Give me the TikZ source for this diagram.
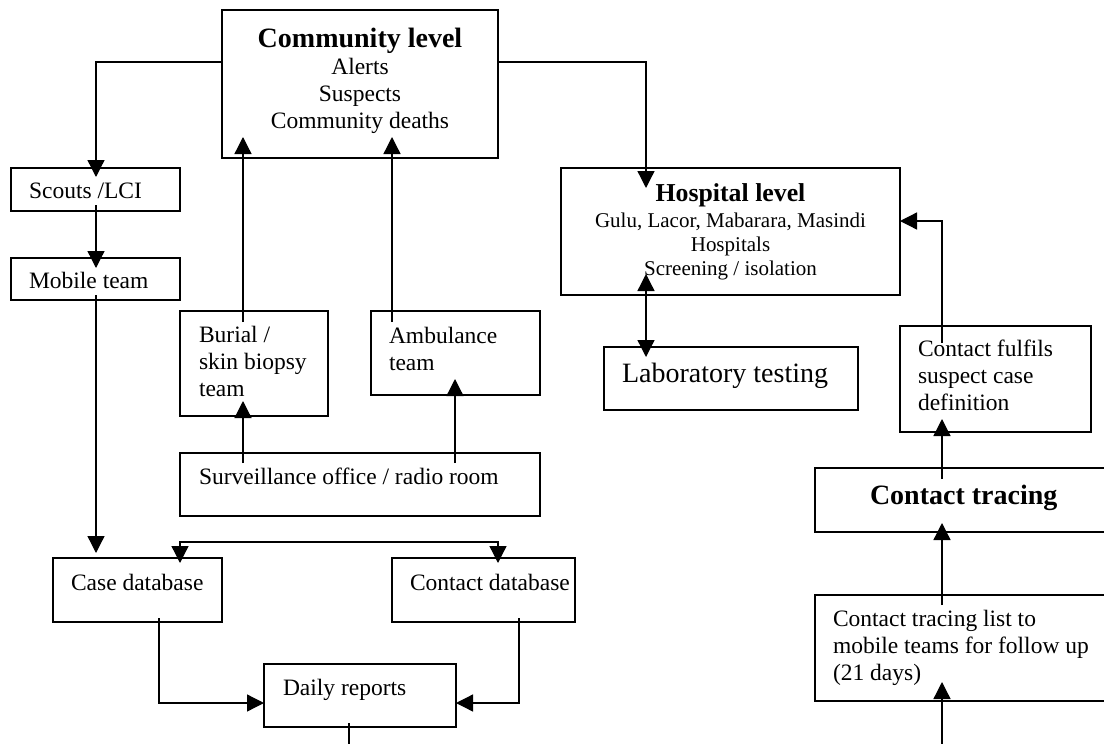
\documentclass[tikz,border=0pt]{standalone}
\usepackage{fontspec}
\setmainfont{Liberation Serif}
\usetikzlibrary{arrows.meta,calc}
\setlength\parindent{0pt}
\newcommand\fnorm{\fontsize{23.5}{27}\selectfont}
\newcommand\fhosp{\fontsize{21}{24}\selectfont}
\newcommand\fbig{\fontsize{28}{32}\selectfont}
\tikzset{
  box/.style={draw, line width=1.6pt, inner sep=0pt, outer sep=0pt, anchor=north west},
  txt/.style={inner sep=0pt, outer sep=0pt, anchor=base west, align=left, font=\fnorm},
  conn/.style={line width=1.3pt, -{Triangle[width=17pt,length=17pt]}},
  conntwo/.style={line width=1.3pt, {Triangle[width=17pt,length=17pt]}-{Triangle[width=17pt,length=17pt]}},
  plain/.style={line width=1.3pt}
}
\begin{document}
\begin{tikzpicture}[x=1pt,y=-1pt]
\clip (0,0) rectangle (1104,744);
\fill[white] (0,0) rectangle (1104,744);
% boxes
\node[box, minimum width=276pt, minimum height=148pt] (comm) at (222,10) {};
\node[box, minimum width=169pt, minimum height=43pt] (scouts) at (11,168) {};
\node[box, minimum width=169pt, minimum height=42pt] (mobile) at (11,258) {};
\node[box, minimum width=148pt, minimum height=105pt] (burial) at (180,311) {};
\node[box, minimum width=169pt, minimum height=84pt] (amb) at (371,311) {};
\node[box, minimum width=360pt, minimum height=63pt] (surv) at (180,453) {};
\node[box, minimum width=169pt, minimum height=64pt] (casedb) at (53,558) {};
\node[box, minimum width=183pt, minimum height=64pt] (contdb) at (392,558) {};
\node[box, minimum width=192pt, minimum height=63pt] (daily) at (264,664) {};
\node[box, minimum width=339pt, minimum height=127pt] (hosp) at (561,168) {};
\node[box, minimum width=254pt, minimum height=63pt] (lab) at (604,347) {};
\node[box, minimum width=191pt, minimum height=106pt] (fulfil) at (900,326) {};
\node[box, minimum width=300pt, minimum height=64pt] (ctrace) at (815,468) {};
\node[box, minimum width=300pt, minimum height=106pt] (ctlist) at (815,595) {};
% texts (multi-line nodes: base = last line)
\node[txt, anchor=base, align=center, font=\fbig\bfseries] (commt) at ([shift={(138,37)}]comm.north west) {Community level};
\node[txt, anchor=base, align=center] (commb) at ([shift={(138,118)}]comm.north west) {Alerts\\Suspects\\Community deaths};
\node[txt, anchor=base, align=center, font=\fontsize{25.8}{29}\selectfont\bfseries] (hospt) at ([shift={(169.5,33)}]hosp.north west) {Hospital level};
\node[txt, anchor=base, align=center, font=\fhosp] (hospb) at ([shift={(169.5,107)}]hosp.north west) {Gulu, Lacor, Mabarara, Masindi\\Hospitals\\Screening / isolation};
\node[txt] (scoutst) at ([shift={(18,30)}]scouts.north west) {Scouts /LCI};
\node[txt] (mobilet) at ([shift={(18,30)}]mobile.north west) {Mobile team};
\node[txt] (burialt) at ([shift={(19,85)}]burial.north west) {Burial /\\skin biopsy\\team};
\node[txt] (ambt) at ([shift={(18,59)}]amb.north west) {Ambulance\\team};
\node[txt] (survt) at ([shift={(19,31)}]surv.north west) {Surveillance office / radio room};
\node[txt] (casedbt) at ([shift={(18,32)}]casedb.north west) {Case database};
\node[txt] (contdbt) at ([shift={(18,32)}]contdb.north west) {Contact database};
\node[txt] (dailyt) at ([shift={(19,31)}]daily.north west) {Daily reports};
\node[txt, font=\fbig] (labt) at ([shift={(18,35)}]lab.north west) {Laboratory testing};
\node[txt] (fulfilt) at ([shift={(18,84)}]fulfil.north west) {Contact fulfils\\suspect case\\definition};
\node[txt, font=\fbig\bfseries] (ctracet) at ([shift={(55,36)}]ctrace.north west) {Contact tracing};
\node[txt] (ctlistt) at ([shift={(18,85)}]ctlist.north west) {Contact tracing list to\\mobile teams for follow up\\(21 days)};
% connectors
\draw[conn] ([shift={(0,52)}]comm.north west) -| ([shift={(85,9)}]scouts.north west);
\draw[conn] ([shift={(0,52)}]comm.north east) -| ([shift={(85,20)}]hosp.north west);
\draw[conn] ([shift={(85,-6)}]scouts.south west) -- ([shift={(85,10)}]mobile.north west);
\draw[conn] ([shift={(85,-5)}]mobile.south west) -- ([shift={(43,-5)}]casedb.north west);
\draw[conn] ([shift={(63,11)}]burial.north west) -- ([shift={(21,-21)}]comm.south west);
\draw[conn] ([shift={(21,11)}]amb.north west) -- ([shift={(170,-21)}]comm.south west);
\draw[conn] ([shift={(63,10)}]surv.north west) -- ([shift={(63,-15)}]burial.south west);
\draw[conn] ([shift={(275,10)}]surv.north west) -- ([shift={(84,-16)}]amb.south west);
\draw[conntwo] ([shift={(127,5)}]casedb.north west) -- ++(0,-21) -| ([shift={(106,5)}]contdb.north west);
\draw[conn] ([shift={(106,-4)}]casedb.south west) |- ([shift={(0,39)}]daily.north west);
\draw[conn] ([shift={(127,-4)}]contdb.south west) |- ([shift={(0,39)}]daily.north east);
\coordinate (dailyout) at (349,750);
\draw[plain] ([shift={(85,-4)}]daily.south west) -- (dailyout);
\draw[conntwo] ([shift={(85,-21)}]hosp.south west) -- ([shift={(42,10)}]lab.north west);
\draw[conn] ([shift={(42,17)}]fulfil.north west) |- ([shift={(0,53)}]hosp.north east);
\draw[conn] ([shift={(127,11)}]ctrace.north west) -- ([shift={(42,-13)}]fulfil.south west);
\draw[conn] ([shift={(127,10)}]ctlist.north west) -- ([shift={(127,-9)}]ctrace.south west);
\coordinate (listin) at (942,750);
\draw[conn] (listin) -- ([shift={(127,-19)}]ctlist.south west);
\end{tikzpicture}
\end{document}
